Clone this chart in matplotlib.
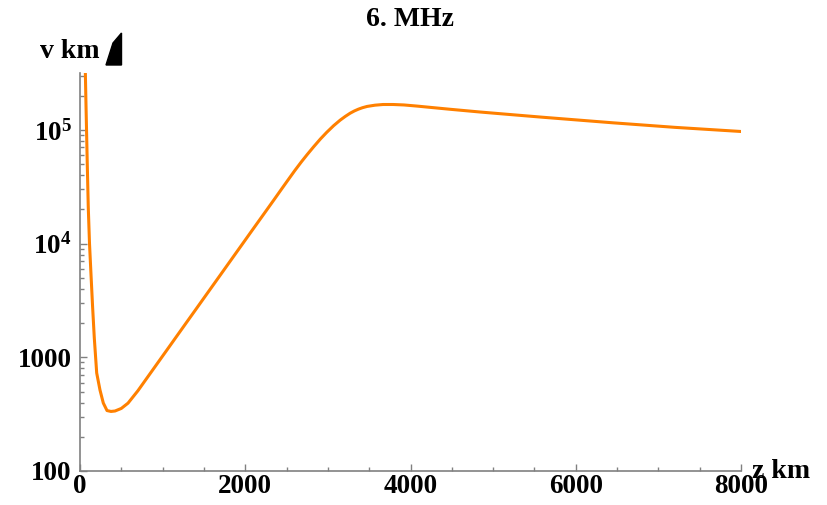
import matplotlib.pyplot as plt
from matplotlib.patches import Polygon
from matplotlib.ticker import FixedLocator, MultipleLocator, NullFormatter

# readings from the reference (z in km, v in km/s, log scale)
z_km = [55, 62, 73, 88, 100, 115, 133, 152, 173, 202, 242, 282, 327, 375,
        424, 500, 581, 700, 807, 900, 989, 1080, 1171, 1290, 1400, 1500,
        1600, 1700, 1795, 1890, 1977, 2070, 2159, 2250, 2350, 2440, 2522,
        2600, 2680, 2750, 2825, 2910, 2986, 3070, 3148, 3210, 3269, 3320,
        3370, 3420, 3475, 3570, 3668, 3790, 3920, 4080, 4250, 4479, 4843,
        5085, 5600, 6453, 7200, 8015]
v_kms = [9e5, 4.0e5, 1.6e5, 5.0e4, 2.1e4, 1.0e4, 5370, 2820, 1480, 728, 515,
         396, 340, 334, 337, 355, 395, 507, 652, 811, 1000, 1238, 1534, 2029,
         2625, 3321, 4200, 5310, 6640, 8300, 1.018e4, 1.267e4, 1.56e4,
         1.93e4, 2.44e4, 3.02e4, 3.66e4, 4.39e4, 5.24e4, 6.07e4, 7.06e4,
         8.32e4, 9.51e4, 1.089e5, 1.216e5, 1.312e5, 1.40e5, 1.466e5,
         1.521e5, 1.567e5, 1.607e5, 1.648e5, 1.671e5, 1.671e5, 1.656e5,
         1.618e5, 1.574e5, 1.517e5, 1.435e5, 1.387e5, 1.291e5, 1.153e5,
         1.052e5, 9.66e4]

x_ticks = [0, 2000, 4000, 6000, 8000]
y_ticks = [100, 1000, 1e4, 1e5]
y_labels = ["100", "1000", r"$\mathbf{10^{4}}$", r"$\mathbf{10^{5}}$"]

ORANGE = "#ff8000"
AXIS = "#808080"

plt.rcParams["font.family"] = ["Liberation Serif", "DejaVu Serif"]
plt.rcParams["font.weight"] = "bold"
plt.rcParams["mathtext.fontset"] = "custom"
plt.rcParams["mathtext.rm"] = "Liberation Serif:bold"
plt.rcParams["mathtext.bf"] = "Liberation Serif:bold"

W, H = 827, 505
fig = plt.figure(figsize=(W / 100, H / 100), dpi=100)
ax = fig.add_axes([80 / W, (H - 471) / H, 661 / W, 398 / H])

ax.plot(z_km, v_kms, color=ORANGE, linewidth=2.2, solid_joinstyle="round")
ax.set_yscale("log")
ax.set_xlim(0, 8000)
ax.set_ylim(100, 10 ** 5.5)

for side in ("top", "right"):
    ax.spines[side].set_visible(False)
for side in ("left", "bottom"):
    ax.spines[side].set_color(AXIS)
    ax.spines[side].set_linewidth(1.2)

ax.set_xticks(x_ticks)
ax.set_xticklabels([str(t) for t in x_ticks])
ax.xaxis.set_minor_locator(MultipleLocator(500))
ax.yaxis.set_major_locator(FixedLocator(y_ticks))
ax.set_yticklabels(y_labels)
ax.yaxis.set_minor_locator(FixedLocator(
    [m * 10 ** e for e in range(2, 6) for m in range(2, 10)]))
ax.yaxis.set_minor_formatter(NullFormatter())

ax.tick_params(which="both", direction="in", color=AXIS, width=1,
               labelsize=19.5, labelcolor="black")
ax.tick_params(which="major", length=5)
ax.tick_params(which="minor", length=3)
ax.tick_params(axis="x", pad=2)
ax.tick_params(axis="y", pad=6)

fig.text(410 / W, 1 - 20 / H, "6. MHz", ha="center", va="center",
         fontsize=20, fontweight="bold")
fig.text(40 / W, 1 - 52 / H, "v km", ha="left", va="center",
         fontsize=20, fontweight="bold")
fig.text(752 / W, 1 - 472 / H, "z km", ha="left", va="center",
         fontsize=20, fontweight="bold")

# the broken "/s" glyph next to the y label
glyph = [(106, 65), (113, 43), (121.5, 33), (121.5, 65)]
fig.patches.append(Polygon([(x / W, 1 - y / H) for x, y in glyph],
                           closed=True, transform=fig.transFigure,
                           facecolor="black", edgecolor="black"))

fig.savefig("out.png", dpi=100, facecolor="white")
